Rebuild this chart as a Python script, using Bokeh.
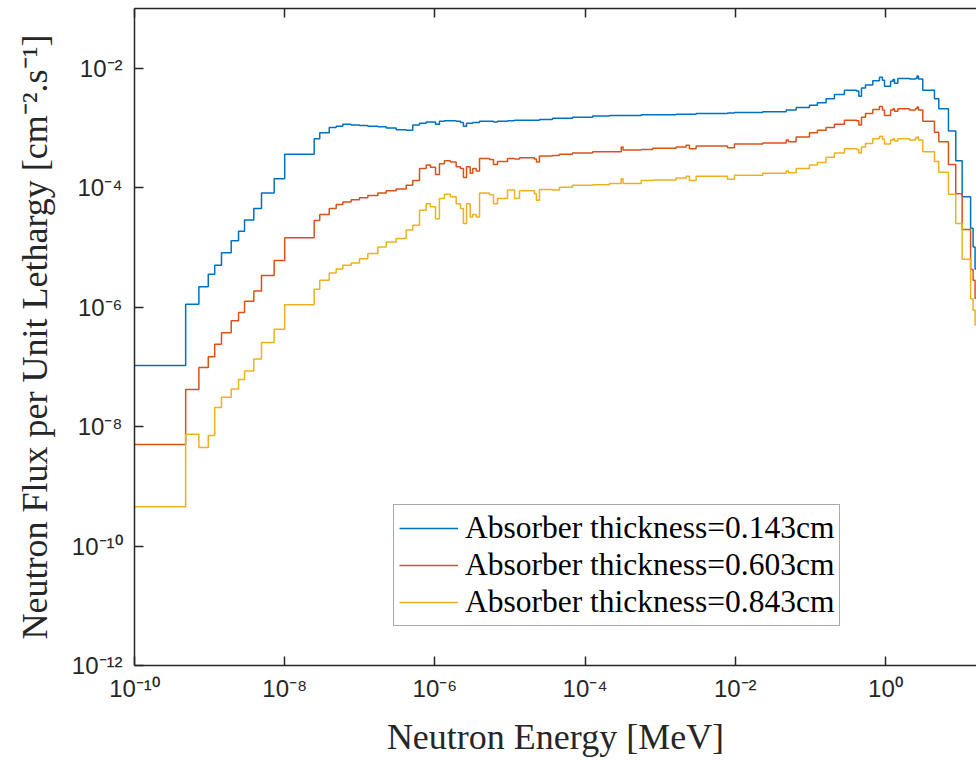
from bokeh.plotting import figure
from bokeh.models import LogAxis, FixedTicker, CustomJSTickFormatter
from bokeh.embed import file_html
from bokeh.resources import INLINE

# Group boundaries (MeV) and flux per unit lethargy per group
energy_edges_MeV = [
    1e-11, 4.8e-10, 7.2e-10, 9.6e-10, 1.17e-9, 1.44e-9, 1.94e-9, 2.43e-9, 2.92e-9, 3.88e-9,
    4.91e-9, 7.24e-9, 1.0e-8, 2.47e-8, 2.93e-8, 3.92e-8, 4.85e-8, 5.94e-8, 7.67e-8, 9.9e-8,
    1.28e-7, 1.74e-7, 2.25e-7, 3.05e-7, 4.15e-7, 5.08e-7, 6.24e-7, 7.66e-7, 8.73e-7, 1.02e-6,
    1.15e-6, 1.34e-6, 1.61e-6, 1.92e-6, 2.19e-6, 2.40e-6, 2.64e-6, 2.95e-6, 3.20e-6, 3.55e-6,
    3.93e-6, 5.33e-6, 6.03e-6, 6.82e-6, 9.27e-6, 1.15e-5, 1.34e-5, 2.12e-5, 2.25e-5, 2.47e-5,
    3.68e-5, 4.56e-5, 6.79e-5, 1.26e-4, 2.11e-4, 3.03e-4, 3.20e-4, 5.58e-4, 7.96e-4, 1.63e-3,
    2.22e-3, 2.45e-3, 3.01e-3, 7.87e-3, 9.75e-3, 0.0232, 0.0476, 0.0511, 0.0647, 0.0973,
    0.124, 0.162, 0.209, 0.284, 0.411, 0.442, 0.479, 0.542, 0.678, 0.832,
    0.912, 0.970, 1.17, 1.26, 1.32, 1.46, 2.09, 2.51, 2.63, 2.75,
    3.14, 4.49, 5.13, 6.90, 8.63, 10.5, 13.6, 14.7, 15.6, 20.0,
]

flux_0143cm = [
    1.05e-7, 1.12e-6, 2.19e-6, 3.55e-6, 5.01e-6, 8.13e-6, 1.29e-5, 1.86e-5, 2.88e-5, 4.47e-5,
    8.13e-5, 1.41e-4, 3.63e-4, 6.61e-4, 8.32e-4, 1.02e-3, 1.07e-3, 1.15e-3, 1.12e-3, 1.10e-3,
    1.07e-3, 1.05e-3, 1.00e-3, 9.33e-4, 9.12e-4, 1.12e-3, 1.20e-3, 1.26e-3, 1.26e-3, 1.15e-3,
    1.29e-3, 1.32e-3, 1.32e-3, 1.29e-3, 1.23e-3, 1.07e-3, 1.20e-3, 1.20e-3, 1.23e-3, 1.23e-3,
    1.29e-3, 1.29e-3, 1.26e-3, 1.29e-3, 1.32e-3, 1.35e-3, 1.35e-3, 1.35e-3, 1.35e-3, 1.38e-3,
    1.45e-3, 1.45e-3, 1.51e-3, 1.58e-3, 1.62e-3, 1.62e-3, 1.62e-3, 1.66e-3, 1.66e-3, 1.70e-3,
    1.70e-3, 1.70e-3, 1.74e-3, 1.78e-3, 1.82e-3, 1.86e-3, 2.00e-3, 2.00e-3, 2.19e-3, 2.40e-3,
    2.63e-3, 3.09e-3, 3.63e-3, 4.27e-3, 4.17e-3, 3.39e-3, 4.68e-3, 5.25e-3, 6.17e-3, 7.08e-3,
    6.31e-3, 5.01e-3, 6.03e-3, 6.46e-3, 5.62e-3, 6.76e-3, 6.61e-3, 6.76e-3, 7.41e-3, 6.61e-3,
    4.27e-3, 3.09e-3, 2.09e-3, 8.91e-4, 2.82e-4, 7.08e-5, 2.09e-5, 1.02e-5, 4.37e-6,
]

flux_0603cm = [
    5.01e-9, 4.17e-8, 9.77e-8, 1.48e-7, 2.40e-7, 3.72e-7, 5.89e-7, 8.13e-7, 1.26e-6, 1.86e-6,
    3.39e-6, 6.03e-6, 1.45e-5, 2.82e-5, 3.55e-5, 4.47e-5, 5.25e-5, 5.75e-5, 6.31e-5, 6.76e-5,
    7.41e-5, 8.13e-5, 8.91e-5, 9.55e-5, 1.10e-4, 1.32e-4, 2.09e-4, 2.40e-4, 2.19e-4, 1.66e-4,
    2.51e-4, 2.82e-4, 2.69e-4, 2.24e-4, 2.09e-4, 1.48e-4, 2.24e-4, 1.74e-4, 2.09e-4, 1.91e-4,
    3.09e-4, 2.95e-4, 2.45e-4, 2.75e-4, 3.09e-4, 3.02e-4, 3.16e-4, 3.02e-4, 2.69e-4, 3.39e-4,
    3.47e-4, 3.63e-4, 3.80e-4, 3.98e-4, 3.98e-4, 4.79e-4, 4.27e-4, 4.37e-4, 4.57e-4, 4.79e-4,
    5.13e-4, 4.47e-4, 5.01e-4, 4.68e-4, 5.37e-4, 5.62e-4, 6.31e-4, 5.89e-4, 7.08e-4, 8.32e-4,
    9.12e-4, 1.02e-3, 1.15e-3, 1.35e-3, 1.32e-3, 1.12e-3, 1.51e-3, 1.74e-3, 2.04e-3, 2.29e-3,
    2.00e-3, 1.62e-3, 2.00e-3, 2.09e-3, 1.91e-3, 2.09e-3, 2.00e-3, 2.09e-3, 2.24e-3, 2.00e-3,
    1.29e-3, 8.51e-4, 5.89e-4, 2.45e-4, 7.94e-5, 2.00e-5, 4.27e-6, 2.82e-6, 1.41e-6,
]

flux_0843cm = [
    4.57e-10, 7.41e-9, 4.47e-9, 7.08e-9, 2.09e-8, 3.09e-8, 4.27e-8, 6.17e-8, 8.51e-8, 1.35e-7,
    2.57e-7, 4.27e-7, 1.10e-6, 2.00e-6, 2.82e-6, 3.72e-6, 4.37e-6, 5.01e-6, 5.50e-6, 6.46e-6,
    7.94e-6, 1.02e-5, 1.23e-5, 1.41e-5, 1.95e-5, 2.34e-5, 4.17e-5, 5.37e-5, 4.79e-5, 3.02e-5,
    6.61e-5, 7.76e-5, 7.08e-5, 5.37e-5, 4.47e-5, 2.51e-5, 5.37e-5, 3.24e-5, 3.55e-5, 3.24e-5,
    8.13e-5, 7.59e-5, 5.37e-5, 6.61e-5, 9.12e-5, 6.61e-5, 8.91e-5, 7.94e-5, 6.17e-5, 9.33e-5,
    9.12e-5, 1.02e-4, 1.10e-4, 1.12e-4, 1.17e-4, 1.41e-4, 1.17e-4, 1.32e-4, 1.35e-4, 1.45e-4,
    1.55e-4, 1.32e-4, 1.55e-4, 1.38e-4, 1.62e-4, 1.74e-4, 1.91e-4, 1.78e-4, 2.09e-4, 2.40e-4,
    2.63e-4, 3.24e-4, 3.80e-4, 4.47e-4, 4.37e-4, 3.80e-4, 4.79e-4, 5.50e-4, 6.61e-4, 7.24e-4,
    6.46e-4, 5.37e-4, 6.31e-4, 6.61e-4, 6.03e-4, 6.61e-4, 6.31e-4, 6.76e-4, 7.08e-4, 6.31e-4,
    3.98e-4, 2.75e-4, 1.82e-4, 7.76e-5, 2.51e-5, 6.31e-6, 1.38e-6, 8.91e-7, 5.01e-7,
]

series_labels = [
    "Absorber thickness=0.143cm",
    "Absorber thickness=0.603cm",
    "Absorber thickness=0.843cm",
]
series_colors = ["#0072BD", "#D95319", "#EDB120"]

x_ticks = [1e-10, 1e-8, 1e-6, 1e-4, 1e-2, 1e0]
x_tick_labels = ["10⁻¹⁰", "10⁻⁸", "10⁻⁶", "10⁻⁴", "10⁻²", "10⁰"]
y_ticks = [1e-12, 1e-10, 1e-8, 1e-6, 1e-4, 1e-2]
y_tick_labels = ["10⁻¹²", "10⁻¹⁰", "10⁻⁸", "10⁻⁶", "10⁻⁴", "10⁻²"]

x_title = "Neutron Energy [MeV]"
y_title = "Neutron Flux per Unit Lethargy [cm⁻².s⁻¹]"

AX = "#262626"
SANS = "Liberation Sans"
SERIF = "Liberation Serif"

p = figure(
    width=976, height=760,
    x_axis_type="log", y_axis_type="log",
    x_range=(1e-10, 16.3), y_range=(1e-12, 1e-1),
    output_backend="svg", toolbar_location=None,
    min_border_left=134, min_border_right=0, min_border_top=8, min_border_bottom=95,
    background_fill_color="white", border_fill_color="white",
)
p.outline_line_color = None
p.xgrid.visible = False
p.ygrid.visible = False

for flux, lab, col in zip([flux_0143cm, flux_0603cm, flux_0843cm], series_labels, series_colors):
    p.step(energy_edges_MeV, flux + [flux[-1]], mode="after",
           line_color=col, line_width=1.5, legend_label=lab)


def fmt(tvals, tlabs):
    return CustomJSTickFormatter(
        args=dict(tvals=tvals, tlabs=tlabs),
        code="""
        let best = 0, d = 1e9;
        for (let i = 0; i < tvals.length; i++) {
            const dd = Math.abs(Math.log10(tvals[i]) - Math.log10(tick));
            if (dd < d) { d = dd; best = i; }
        }
        return tlabs[best];
        """,
    )


def style(ax, tvals, tlabs, show_labels=True):
    ax.ticker = FixedTicker(ticks=tvals)
    ax.formatter = fmt(tvals, tlabs)
    ax.axis_line_color = AX
    ax.axis_line_width = 1.5
    ax.major_tick_line_color = AX
    ax.major_tick_line_width = 1.5
    ax.major_tick_in = 9
    ax.major_tick_out = 0
    ax.minor_tick_line_color = None
    ax.major_label_text_font = SANS
    if show_labels:
        ax.major_label_text_color = AX
        ax.major_label_text_font_size = "24px"
    else:
        ax.major_label_text_color = None
        ax.major_label_text_font_size = "1px"
        ax.major_label_standoff = 0


style(p.xaxis[0], x_ticks, x_tick_labels)
style(p.yaxis[0], y_ticks, y_tick_labels)
p.xaxis[0].major_label_standoff = 9
p.yaxis[0].major_label_standoff = 12

p.xaxis[0].axis_label = x_title
p.yaxis[0].axis_label = y_title
for ax in (p.xaxis[0], p.yaxis[0]):
    ax.axis_label_text_font = SERIF
    ax.axis_label_text_font_size = "36px"
    ax.axis_label_text_font_style = "normal"
    ax.axis_label_text_color = AX
p.xaxis[0].axis_label_standoff = 12
p.yaxis[0].axis_label_standoff = 14

top = LogAxis()
style(top, x_ticks, x_tick_labels, show_labels=False)
p.add_layout(top, "above")

leg = p.legend[0]
leg.location = (259, 39)
leg.label_text_font = SERIF
leg.label_text_font_size = "31.5px"
leg.label_text_color = "black"
leg.glyph_width = 59
leg.glyph_height = 30
leg.label_standoff = 7
leg.padding = 5
leg.spacing = 1
leg.margin = 0
leg.border_line_color = "#555555"
leg.border_line_width = 1
leg.background_fill_color = "white"
leg.background_fill_alpha = 1.0

open("out.html", "w").write(file_html(p, INLINE))
